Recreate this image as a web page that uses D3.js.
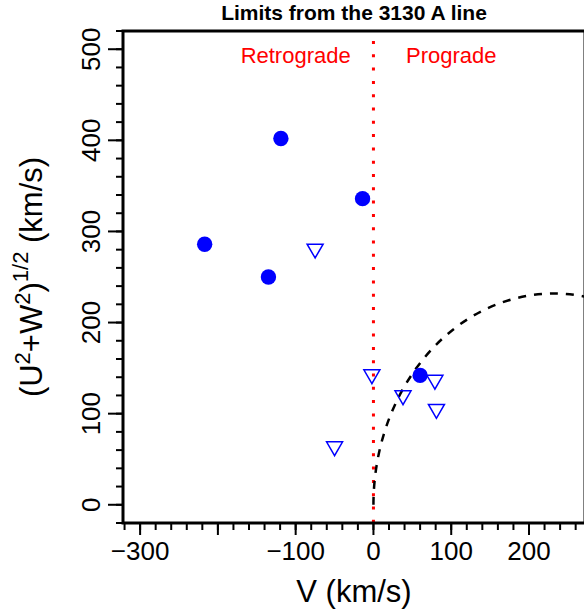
<!DOCTYPE html>
<html>
<head>
<meta charset="utf-8">
<script src="https://cdn.jsdelivr.net/npm/d3@7"></script>
<style>
  body { margin: 0; background: #fff; }
  svg { display: block; font-family: "Liberation Sans", Arial, Helvetica, sans-serif; }
</style>
</head>
<body>
<div id="chart"></div>
<script>
// --- data ---
const detectV = [-119, -14, -217, -135, 60];        // filled circles: V (km/s)
const detectUW = [402, 336, 286, 250, 142];          // (U^2+W^2)^1/2
const limitV = [-75, -2, 79, 38, 81, -50];           // open triangles (upper limits)
const limitUW = [281, 143, 137, 120, 105, 64];
const xTicks = [-300, -200, -100, 0, 100, 200];
const xTickLabels = ['\u2212300', '', '\u2212100', '0', '100', '200'];
const yTicks = [0, 100, 200, 300, 400, 500];
const haloRadius = 232;                              // dashed circle through the origin

// --- layout ---
const width = 584, height = 615;
const xDomain = [-322, 272], yDomain = [-20, 520];
const x = d3.scaleLinear().domain(xDomain).range([123, 585]);
const y = d3.scaleLinear().domain(yDomain).range([523, 31]);

const svg = d3.select('#chart').append('svg')
    .attr('width', width)
    .attr('height', height);

svg.append('clipPath').attr('id', 'plot-clip')
  .append('rect')
    .attr('x', x(xDomain[0])).attr('y', y(yDomain[1]))
    .attr('width', x(xDomain[1]) - x(xDomain[0]))
    .attr('height', y(yDomain[0]) - y(yDomain[1]));

// minor ticks every 20
const xMinor = d3.range(-320, 280, 20);
const yMinor = d3.range(-20, 540, 20);

const ticks = svg.append('g').attr('stroke', '#000').attr('stroke-width', 2);
ticks.selectAll('line.xminor').data(xMinor).join('line')
    .attr('x1', d => x(d)).attr('x2', d => x(d))
    .attr('y1', y(yDomain[0])).attr('y2', y(yDomain[0]) + 7);
ticks.selectAll('line.xmajor').data(xTicks).join('line')
    .attr('x1', d => x(d)).attr('x2', d => x(d))
    .attr('y1', y(yDomain[0])).attr('y2', y(yDomain[0]) + 12);
ticks.selectAll('line.yminor').data(yMinor).join('line')
    .attr('y1', d => y(d)).attr('y2', d => y(d))
    .attr('x1', x(xDomain[0])).attr('x2', x(xDomain[0]) - 7);
ticks.selectAll('line.ymajor').data(yTicks).join('line')
    .attr('y1', d => y(d)).attr('y2', d => y(d))
    .attr('x1', x(xDomain[0])).attr('x2', x(xDomain[0]) - 15);

// tick labels
svg.append('g').selectAll('text').data(xTicks).join('text')
    .attr('x', d => x(d))
    .attr('y', 560)
    .attr('text-anchor', 'middle')
    .attr('font-size', 26)
    .text((d, i) => xTickLabels[i]);

svg.append('g').selectAll('text').data(yTicks).join('text')
    .attr('transform', d => `translate(100,${y(d)}) rotate(-90)`)
    .attr('text-anchor', 'middle')
    .attr('font-size', 26)
    .text(d => d);

// red dotted divider at V = 0
const plot = svg.append('g').attr('clip-path', 'url(#plot-clip)');
plot.append('line')
    .attr('x1', x(0)).attr('x2', x(0))
    .attr('y1', y(yDomain[1]) + 10).attr('y2', y(yDomain[0]))
    .attr('stroke', '#ff0000')
    .attr('stroke-width', 3)
    .attr('stroke-dasharray', '3 10.3');

// dashed limit circle, centred on (haloRadius, 0)
plot.append('path')
    .attr('d', `M ${x(0)} ${y(0)} A ${x(haloRadius) - x(0)} ${y(0) - y(haloRadius)} 0 0 1 ${x(2 * haloRadius)} ${y(0)}`)
    .attr('fill', 'none')
    .attr('stroke', '#000')
    .attr('stroke-width', 2.5)
    .attr('stroke-dasharray', '8 8');

// points
plot.selectAll('circle').data(detectV).join('circle')
    .attr('cx', d => x(d))
    .attr('cy', (d, i) => y(detectUW[i]))
    .attr('r', 7.7)
    .attr('fill', '#0000ff');

const tri = d3.symbol().type(d3.symbolTriangle).size(111);
plot.selectAll('path.tri').data(limitV).join('path')
    .attr('class', 'tri')
    .attr('d', tri)
    .attr('transform', (d, i) => `translate(${x(d)},${y(limitUW[i])}) rotate(180)`)
    .attr('fill', 'none')
    .attr('stroke', '#0000ff')
    .attr('stroke-width', 1.5);

// region labels
svg.append('text')
    .attr('x', x(-100)).attr('y', 63)
    .attr('text-anchor', 'middle')
    .attr('font-size', 22)
    .attr('fill', '#ff0000')
    .text('Retrograde');
svg.append('text')
    .attr('x', x(100)).attr('y', 63)
    .attr('text-anchor', 'middle')
    .attr('font-size', 22)
    .attr('fill', '#ff0000')
    .text('Prograde');

// frame
svg.append('rect')
    .attr('x', x(xDomain[0])).attr('y', y(yDomain[1]))
    .attr('width', x(xDomain[1]) - x(xDomain[0]))
    .attr('height', y(yDomain[0]) - y(yDomain[1]))
    .attr('fill', 'none')
    .attr('stroke', '#000')
    .attr('stroke-width', 3);

// title and axis titles
const midX = (x(xDomain[0]) + x(xDomain[1])) / 2;
const midY = (y(yDomain[0]) + y(yDomain[1])) / 2;

svg.append('text')
    .attr('x', midX).attr('y', 19.5)
    .attr('text-anchor', 'middle')
    .attr('font-size', 21)
    .attr('font-weight', 'bold')
    .text('Limits from the 3130 A line');

svg.append('text')
    .attr('x', midX).attr('y', 602)
    .attr('text-anchor', 'middle')
    .attr('font-size', 31)
    .text('V (km/s)');

const yTitle = svg.append('text')
    .attr('transform', `translate(42,${midY}) rotate(-90)`)
    .attr('text-anchor', 'middle')
    .attr('font-size', 31);
yTitle.append('tspan').text('(U');
yTitle.append('tspan').attr('font-size', 22).attr('dy', -12).text('2');
yTitle.append('tspan').attr('dy', 12).text('+W');
yTitle.append('tspan').attr('font-size', 22).attr('dy', -12).text('2');
yTitle.append('tspan').attr('dy', 12).text(')');
yTitle.append('tspan').attr('font-size', 22).attr('dy', -14).text('1/2');
yTitle.append('tspan').attr('dy', 14).text(' (km/s)');
</script>
</body>
</html>
